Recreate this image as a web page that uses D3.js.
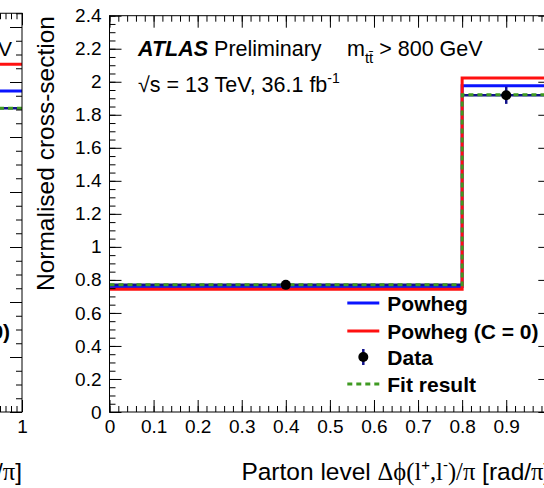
<!DOCTYPE html>
<html><head><meta charset="utf-8">
<script src="https://cdn.jsdelivr.net/npm/d3@7"></script>
<style>
html,body{margin:0;padding:0;background:#fff;}
svg{display:block;font-family:"Liberation Sans",Arial,Helvetica,sans-serif;}
</style></head><body>
<svg id="chart" width="544" height="488"></svg>
<script>
// Bin edges in Δφ(l+,l-)/π
const binEdges = [0, 0.8, 1.0];

// m_tt > 800 GeV panel
const powheg     = [0.760, 1.976];
const powhegC0   = [0.744, 2.022];
const fitResult  = [0.770, 1.921];
const dataValues = [0.770, 1.918];
const dataErrors = [0.012, 0.052];

// neighbouring panel, 550 < m_tt < 800 GeV (only its right edge is in view)
const prevPowheg     = [0.958, 1.167];
const prevPowhegC0   = [0.934, 1.265];
const prevFitResult  = [0.974, 1.105];
const prevDataValues = [0.974, 1.105];
const prevDataErrors = [0.010, 0.030];

// axis ticks
const xMajorTicks = [0, 0.1, 0.2, 0.3, 0.4, 0.5, 0.6, 0.7, 0.8, 0.9, 1];
const xTickLabels = ["0", "0.1", "0.2", "0.3", "0.4", "0.5", "0.6", "0.7", "0.8", "0.9", "1"];
const yMajorTicks = [0, 0.2, 0.4, 0.6, 0.8, 1, 1.2, 1.4, 1.6, 1.8, 2, 2.2, 2.4];
const yTickLabels = ["0", "0.2", "0.4", "0.6", "0.8", "1", "1.2", "1.4", "1.6", "1.8", "2", "2.2", "2.4"];
const prevXMajorTicks = [0, 0.2, 0.4, 0.6, 0.8, 1];
const prevXTickLabels = ["0", "0.2", "0.4", "0.6", "0.8", "1"];
const prevYMajorTicks = [0, 0.2, 0.4, 0.6, 0.8, 1, 1.2, 1.4];

const legendLabels = ["Powheg", "Powheg (C = 0)", "Data", "Fit result"];

const COL_BLUE = "#0a14ff";
const COL_RED = "#ff1010";
const COL_GREEN = "#3f9a22";
const COL_DATAERR = "#12128c";

const svg = d3.select("#chart");
svg.append("rect").attr("width", 544).attr("height", 488).attr("fill", "#fff");

const range = (a, b, s) => { const r = []; for (let i = 0; a + i * s <= b + 1e-9; i++) r.push(+(a + i * s).toFixed(4)); return r; };

function cleanAxis(g) {
  g.select(".domain").remove();
  g.attr("font-size", null).attr("font-family", null);
  g.selectAll(".tick line").attr("stroke", "#000").attr("stroke-width", 1);
  g.selectAll(".tick text").attr("fill", "#000").style("font-size", "19px");
}

function drawFrame(g, x, y, xMaj, xLab, xMinStep, yMaj, yLab, yMinStep) {
  const [x0, x1] = x.range();
  const [y0, y1] = y.range();
  const xMinor = range(x.domain()[0], x.domain()[1], xMinStep);
  const yMinor = range(y.domain()[0], y.domain()[1], yMinStep);
  // minor ticks
  g.append("g").attr("transform", `translate(0,${y0})`)
    .call(d3.axisBottom(x).tickValues(xMinor).tickSize(-6).tickFormat(""))
    .call(cleanAxis);
  g.append("g").attr("transform", `translate(0,${y1})`)
    .call(d3.axisTop(x).tickValues(xMinor).tickSize(-6).tickFormat(""))
    .call(cleanAxis);
  g.append("g").attr("transform", `translate(${x0},0)`)
    .call(d3.axisLeft(y).tickValues(yMinor).tickSize(-6).tickFormat(""))
    .call(cleanAxis);
  g.append("g").attr("transform", `translate(${x1},0)`)
    .call(d3.axisRight(y).tickValues(yMinor).tickSize(-6).tickFormat(""))
    .call(cleanAxis);
  // major ticks
  g.append("g").attr("transform", `translate(0,${y0})`)
    .call(d3.axisBottom(x).tickValues(xMaj).tickSize(-12).tickPadding(8)
      .tickFormat((d, i) => xLab ? xLab[i] : ""))
    .call(cleanAxis);
  g.append("g").attr("transform", `translate(0,${y1})`)
    .call(d3.axisTop(x).tickValues(xMaj).tickSize(-12).tickFormat(""))
    .call(cleanAxis);
  g.append("g").attr("transform", `translate(${x0},0)`)
    .call(d3.axisLeft(y).tickValues(yMaj).tickSize(-12).tickPadding(8)
      .tickFormat((d, i) => yLab ? yLab[i] : ""))
    .call(cleanAxis);
  g.append("g").attr("transform", `translate(${x1},0)`)
    .call(d3.axisRight(y).tickValues(yMaj).tickSize(-12).tickFormat(""))
    .call(cleanAxis);
  g.append("rect").attr("x", x0).attr("y", y1).attr("width", x1 - x0).attr("height", y0 - y1)
    .attr("fill", "none").attr("stroke", "#000").attr("stroke-width", 1);
}

function stepPoints(vals) {
  const pts = vals.map((v, i) => [binEdges[i], v]);
  pts.push([binEdges[binEdges.length - 1], vals[vals.length - 1]]);
  return pts;
}

function drawHists(g, x, y, blue, red, fit, dat, err) {
  const line = d3.line().x(d => x(d[0])).y(d => y(d[1])).curve(d3.curveStepAfter);
  g.append("path").attr("d", line(stepPoints(blue))).attr("fill", "none")
    .attr("stroke", COL_BLUE).attr("stroke-width", 3);
  g.append("path").attr("d", line(stepPoints(red))).attr("fill", "none")
    .attr("stroke", COL_RED).attr("stroke-width", 3);
  // data: bin-width bars, vertical errors, markers
  const centres = dat.map((v, i) => (binEdges[i] + binEdges[i + 1]) / 2);
  g.selectAll(null).data(dat).join("line")
    .attr("x1", (d, i) => x(binEdges[i])).attr("x2", (d, i) => x(binEdges[i + 1]))
    .attr("y1", d => y(d)).attr("y2", d => y(d))
    .attr("stroke", COL_DATAERR).attr("stroke-width", 2.5);
  g.selectAll(null).data(dat).join("line")
    .attr("x1", (d, i) => x(centres[i])).attr("x2", (d, i) => x(centres[i]))
    .attr("y1", (d, i) => y(d - err[i])).attr("y2", (d, i) => y(d + err[i]))
    .attr("stroke", COL_DATAERR).attr("stroke-width", 2.5);
  g.append("path").attr("d", line(stepPoints(fit))).attr("fill", "none")
    .attr("stroke", COL_GREEN).attr("stroke-width", 3).attr("stroke-dasharray", "5,4");
  g.selectAll(null).data(dat).join("circle")
    .attr("cx", (d, i) => x(centres[i])).attr("cy", d => y(d)).attr("r", 5).attr("fill", "#000");
}

// rich text helper: parts = [{t, serif, bold, italic, shift, size}]
function richText(sel, parts, baseSize) {
  let cur = 0;
  parts.forEach(p => {
    const ts = sel.append("tspan").text(p.t);
    const sh = p.shift || 0;
    if (sh !== cur) { ts.attr("dy", sh - cur); cur = sh; }
    if (p.serif) ts.attr("font-family", "'Liberation Serif','DejaVu Serif',serif");
    if (p.bold) ts.attr("font-weight", "bold");
    if (p.italic) ts.attr("font-style", "italic");
    ts.attr("font-size", (p.size || baseSize) + "px");
  });
}

function xTitle(g, xEnd) {
  const t = g.append("text").attr("x", xEnd).attr("y", 480).attr("text-anchor", "end").attr("fill", "#000");
  richText(t, [
    { t: "Parton level " },
    { t: "Δϕ", serif: true },
    { t: "(l", serif: true },
    { t: "+", size: 15, shift: -10 },
    { t: ",l", serif: true, shift: 0 },
    { t: "-", size: 15, shift: -10 },
    { t: ")/π", serif: true, shift: 0 },
    { t: " [rad/" },
    { t: "π", serif: true },
    { t: "]" }
  ], 24.5);
}

function legend(g, xRight) {
  const lx1 = xRight - 203, lx2 = xRight - 171, tx = xRight - 163;
  const rows = [303, 331, 357, 384];
  g.append("line").attr("x1", lx1).attr("x2", lx2).attr("y1", rows[0]).attr("y2", rows[0])
    .attr("stroke", COL_BLUE).attr("stroke-width", 3);
  g.append("line").attr("x1", lx1).attr("x2", lx2).attr("y1", rows[1]).attr("y2", rows[1])
    .attr("stroke", COL_RED).attr("stroke-width", 3);
  const cx = (lx1 + lx2) / 2;
  g.append("line").attr("x1", cx).attr("x2", cx).attr("y1", rows[2] - 8).attr("y2", rows[2] + 8)
    .attr("stroke", COL_DATAERR).attr("stroke-width", 2.5);
  g.append("circle").attr("cx", cx).attr("cy", rows[2]).attr("r", 5).attr("fill", "#000");
  g.append("line").attr("x1", lx1).attr("x2", lx2).attr("y1", rows[3]).attr("y2", rows[3])
    .attr("stroke", COL_GREEN).attr("stroke-width", 3).attr("stroke-dasharray", "5,4");
  g.selectAll(null).data(legendLabels).join("text")
    .attr("x", tx).attr("y", (d, i) => rows[i] + 7.5)
    .attr("font-weight", "bold").attr("font-size", "21px").attr("fill", "#000")
    .text(d => d);
}

// ---------- neighbouring panel (cut at the left edge) ----------
const xPrev = d3.scaleLinear().domain([0, 1]).range([-253, 22]);
const yPrev = d3.scaleLinear().domain([0, 1.45]).range([412, 412 - 1.45 * 275]);
const gPrev = svg.append("g");
drawHists(gPrev, xPrev, yPrev, prevPowheg, prevPowhegC0, prevFitResult, prevDataValues, prevDataErrors);
drawFrame(gPrev, xPrev, yPrev, prevXMajorTicks, prevXTickLabels, 0.02, prevYMajorTicks, null, 0.05);
legend(gPrev, 22);
xTitle(gPrev, 22);
{
  const t = gPrev.append("text").attr("x", 12).attr("y", 56).attr("text-anchor", "end").attr("fill", "#000");
  richText(t, [
    { t: "550 < m" },
    { t: "tt̄", size: 15, shift: 7 },
    { t: " < 800 GeV", shift: 0 }
  ], 21);
}
// labels of this panel that fall wholly outside the view are not kept
gPrev.selectAll("text").each(function () {
  const b = this.getBBox();
  const m = this.getCTM();
  if (m && b.x + b.width + m.e <= 0) d3.select(this).remove();
});

// ---------- main panel: m_tt > 800 GeV ----------
const x = d3.scaleLinear().domain([0, 1]).range([109.5, 550.3]);
const y = d3.scaleLinear().domain([0, 2.4]).range([412, 15.7]);
const g = svg.append("g");
drawHists(g, x, y, powheg, powhegC0, fitResult, dataValues, dataErrors);
drawFrame(g, x, y, xMajorTicks, xTickLabels, 0.02, yMajorTicks, yTickLabels, 0.05);
legend(g, 550.3);
xTitle(g, 550.3);

g.append("text").attr("transform", "translate(54,16) rotate(-90)")
  .attr("text-anchor", "end").attr("font-size", "24.5px").attr("fill", "#000")
  .text("Normalised cross-section");

{
  const t = g.append("text").attr("x", 138).attr("y", 56).attr("fill", "#000");
  richText(t, [{ t: "ATLAS", bold: true, italic: true }, { t: " Preliminary" }], 21.5);
  const m = g.append("text").attr("x", 347).attr("y", 56).attr("fill", "#000");
  richText(m, [
    { t: "m" },
    { t: "tt̄", size: 15, shift: 7 },
    { t: " > 800 GeV", shift: 0 }
  ], 21.5);
  const s = g.append("text").attr("x", 138).attr("y", 92).attr("fill", "#000");
  richText(s, [
    { t: "√s = 13 TeV, 36.1 fb" },
    { t: "-1", size: 14, shift: -9 }
  ], 21.5);
}
</script>
</body></html>
